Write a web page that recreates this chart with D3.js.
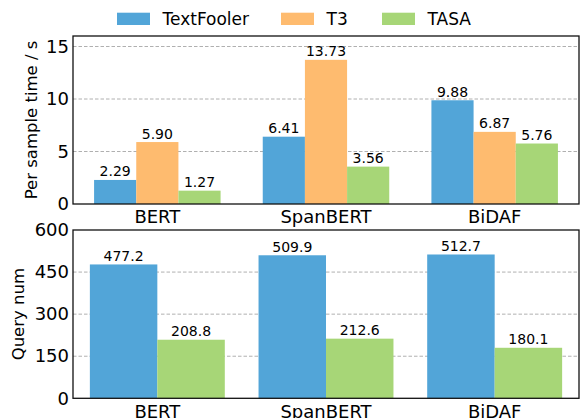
<!DOCTYPE html>
<head>
  <meta charset="utf-8">
  <script src="https://d3js.org/d3.v7.min.js"></script>
  <style>
    body { margin: 0; background: #fff; }
    text { font-family: "DejaVu Sans", sans-serif; fill: #000; }
    .grid line { stroke: #b0b0b0; stroke-width: 1; stroke-dasharray: 3.5, 2; }
  </style>
</head>

<body>
  <script>

    // data
    var models = ["BERT", "SpanBERT", "BiDAF"];
    var methods = ["TextFooler", "T3", "TASA"];
    var colors = ["#52a5d8", "#febb6f", "#a7d677"];

    var textfoolerTime = [2.29, 6.41, 9.88];
    var t3Time = [5.90, 13.73, 6.87];
    var tasaTime = [1.27, 3.56, 5.76];

    var textfoolerQuery = [477.2, 509.9, 512.7];
    var tasaQuery = [208.8, 212.6, 180.1];

    var timeTicks = [0, 5, 10, 15];
    var queryTicks = [0, 150, 300, 450, 600];

    var svg = d3.select("body").append("svg")
      .attr("width", 581)
      .attr("height", 418);

    var left = 73, right = 579;

    var x = d3.scaleBand()
      .domain(models)
      .range([left, right])
      .padding(0);

    // one panel of grouped bars
    function panel(top, bottom, ymax, ticks, series, names, inner, fmt, ylabel, labelX, padBottom) {
      var y = d3.scaleLinear().domain([0, ymax]).range([bottom, top]);
      var bw = x.bandwidth();
      var sub = d3.scaleBand()
        .domain(names)
        .range([bw * (1 - inner) / 2, bw * (1 + inner) / 2]);

      var g = svg.append("g");

      // grid
      g.append("g").attr("class", "grid")
        .selectAll("line").data(ticks.filter(function(t) { return t > 0 && t < ymax; }))
        .enter().append("line")
        .attr("x1", left).attr("x2", right)
        .attr("y1", function(d) { return y(d); })
        .attr("y2", function(d) { return y(d); });

      // bars
      series.forEach(function(s, si) {
        var name = names[si];
        var grp = g.append("g");
        grp.selectAll("rect").data(s).enter().append("rect")
          .attr("x", function(d, i) { return x(models[i]) + sub(name); })
          .attr("width", sub.bandwidth())
          .attr("y", function(d) { return y(d); })
          .attr("height", function(d) { return bottom - y(d); })
          .style("fill", colors[methods.indexOf(name)]);

        grp.selectAll("text").data(s).enter().append("text")
          .attr("x", function(d, i) { return x(models[i]) + sub(name) + sub.bandwidth() / 2; })
          .attr("y", function(d) { return y(d) - 3.5; })
          .attr("text-anchor", "middle")
          .style("font-size", "14px")
          .text(function(d) { return fmt(d); });
      });

      // y axis
      var ya = g.append("g")
        .attr("transform", "translate(" + left + ",0)")
        .call(d3.axisLeft(y).tickValues(ticks).tickSize(0).tickPadding(4));
      ya.select(".domain").remove();
      ya.selectAll("text").style("font-size", "18px").style("font-family", "DejaVu Sans");

      // x axis
      var xa = g.append("g")
        .attr("transform", "translate(0," + bottom + ")")
        .call(d3.axisBottom(x).tickSize(0).tickPadding(padBottom));
      xa.select(".domain").remove();
      xa.selectAll("text").style("font-size", "18px").style("font-family", "DejaVu Sans");

      // frame
      g.append("rect")
        .attr("x", left).attr("y", top)
        .attr("width", right - left).attr("height", bottom - top)
        .style("fill", "none")
        .style("stroke", "#111")
        .style("stroke-width", 1.3);

      g.append("text")
        .attr("transform", "translate(" + labelX + "," + ((top + bottom) / 2) + ") rotate(-90)")
        .attr("text-anchor", "middle")
        .style("font-size", "16.5px")
        .text(ylabel);
    }

    panel(36, 204, 16, timeTicks, [textfoolerTime, t3Time, tasaTime],
      ["TextFooler", "T3", "TASA"], 0.75, function(d) { return d.toFixed(2); },
      "Per sample time / s", 36.5, 6);

    panel(230, 398.3, 600, queryTicks, [textfoolerQuery, tasaQuery],
      ["TextFooler", "TASA"], 0.8, function(d) { return d.toFixed(1); },
      "Query num", 23.5, 6.5);

    // legend
    var legendX = [117, 281, 382];
    var leg = svg.append("g").selectAll("g").data(methods).enter().append("g")
      .attr("transform", function(d, i) { return "translate(" + legendX[i] + ",0)"; });
    leg.append("rect")
      .attr("x", 0).attr("y", 12.7)
      .attr("width", 33).attr("height", 12.3)
      .style("fill", function(d, i) { return colors[i]; });
    leg.append("text")
      .attr("x", 45.5).attr("y", 25)
      .style("font-size", "17px")
      .text(function(d) { return d; });

  </script>
</body>
